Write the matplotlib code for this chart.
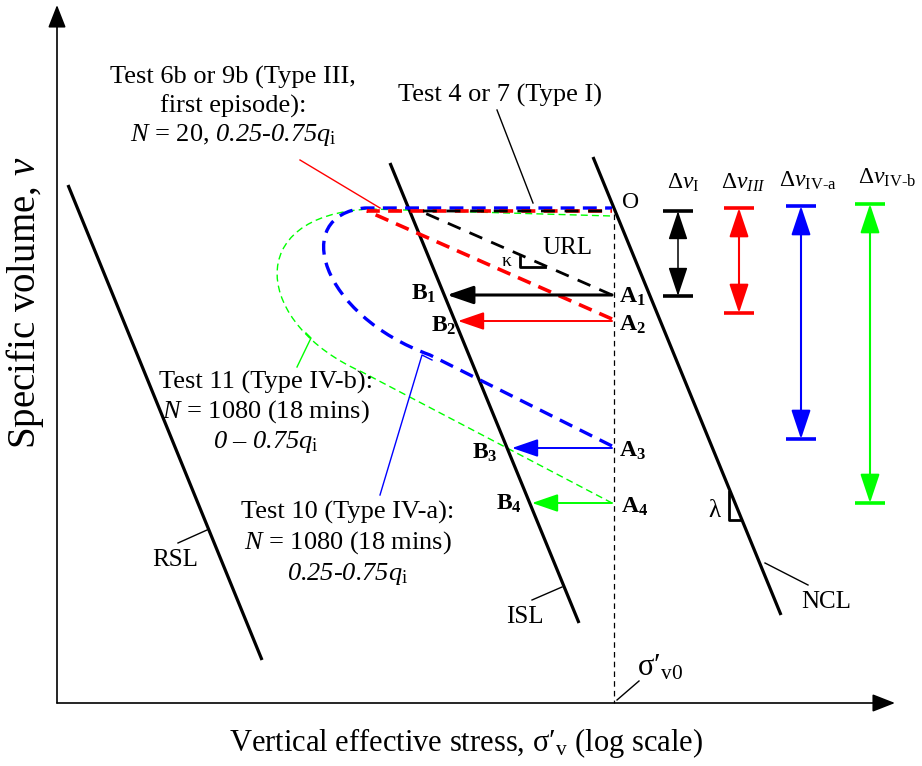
import matplotlib.pyplot as plt
from matplotlib.path import Path
from matplotlib.patches import PathPatch, FancyArrowPatch

plt.rcParams['font.family'] = ['Liberation Serif', 'DejaVu Serif']
plt.rcParams['mathtext.fontset'] = 'custom'
plt.rcParams['mathtext.rm'] = 'Liberation Serif'
plt.rcParams['mathtext.it'] = 'Liberation Serif:italic'
plt.rcParams['mathtext.bf'] = 'Liberation Serif:bold'
# italic digits: mathtext keeps digits upright in \mathit, so borrow the sf slot
plt.rcParams['mathtext.sf'] = 'Liberation Serif:italic'
plt.rcParams['lines.scale_dashes'] = False

# ── schematic geometry (pixel units, y downwards) ─────────────────────────────
# compression / state lines (top point, bottom point)
rsl_x, rsl_y = [68, 262], [185, 660]
isl_x, isl_y = [390, 579], [163, 623]
ncl_x, ncl_y = [593, 781], [157, 615]

# sigma'_v0 line
sig_x = 614
sig_y = [214, 703]

# undrained paths A_i -> B_i
a_y = [295, 321, 448, 503]
b_x = [447, 458, 512, 532]
path_cols = ['black', '#ff0000', '#0000ff', '#00ff00']
path_lw = [2.2, 1.4, 1.4, 1.4]

# delta-v bars
dv_x = [678, 739, 801, 870]
dv_top = [211, 208, 206, 204]
dv_bot = [296, 313, 439, 503]
dv_lw = [1.1, 1.5, 1.5, 1.5]
dv_labels = [r'$\Delta \nu_{\rm I}$', r'$\Delta \nu_{III}$',
             r'$\Delta \nu_{\rm IV\text{-}a}$', r'$\Delta \nu_{\rm IV\text{-}b}$']
dv_lab_xy = [(683, 183), (743, 183), (808, 181), (887, 178)]

# dashed cyclic-loading paths (vertices, bezier control points)
black_v = [(612, 295), (420, 211), (612, 211)]
red_v = [(612, 319), (367, 211), (612, 211)]
blue_v = [(612, 446), (430, 355), (320, 315), (290, 215), (365, 208), (612, 208)]
green_v = [(612, 503), (362, 372), (255, 325), (240, 215), (370, 209), (612, 216)]

# point labels
a_labels = [r'$\mathbf{A_1}$', r'$\mathbf{A_2}$', r'$\mathbf{A_3}$', r'$\mathbf{A_4}$']
a_lab_xy = [(632, 297), (632, 325), (632, 451), (635, 507)]
b_labels = [r'$\mathbf{B_1}$', r'$\mathbf{B_2}$', r'$\mathbf{B_3}$', r'$\mathbf{B_4}$']
b_lab_xy = [(424, 294), (444, 326), (485, 453), (509, 504)]

# test annotations
t1_lines = ['Test 4 or 7 (Type I)']
t3_lines = ['Test 6b or 9b (Type III,', 'first episode):',
            r'$N$ = 20, $\mathsf{0.25}$-$\mathsf{0.75}q_{\rm i}$']
t11_lines = ['Test 11 (Type IV-b):', r'$N$ = 1080 (18 mins)',
             r'$\mathsf{0}$ – $\mathsf{0.75}q_{\rm i}$']
t10_lines = ['Test 10 (Type IV-a):', r'$N$ = 1080 (18 mins)',
             r'$\mathsf{0.25}$-$\mathsf{0.75}q_{\rm i}$']

fig = plt.figure(figsize=(9.22, 7.66), dpi=100)
ax = fig.add_axes([0, 0, 1, 1])
ax.set_xlim(0, 922)
ax.set_ylim(766, 0)
ax.axis('off')


def arrow(p0, p1, color, lw, hl=15, hw=5, style='-|>'):
    a = FancyArrowPatch(p0, p1, arrowstyle=f'{style},head_length={hl},head_width={hw}',
                        mutation_scale=1, color=color, lw=lw, shrinkA=0, shrinkB=0,
                        zorder=5)
    ax.add_patch(a)


def dashed(verts, color, lw, dash, z):
    codes = [Path.MOVETO, Path.LINETO]
    if len(verts) == 6:
        codes += [Path.CURVE4] * 3 + [Path.LINETO]
    else:
        codes += [Path.LINETO]
    ax.add_patch(PathPatch(Path(verts, codes), fill=False, edgecolor=color, lw=lw,
                           linestyle=(0, dash), capstyle='butt', zorder=z))


# axes
arrow((57, 703), (57, 5), 'black', 1.2, hl=14, hw=5.5)
arrow((57, 703), (895, 703), 'black', 1.2, hl=14, hw=5.5)
ax.text(25, 303, r'Specific volume, $\nu$', rotation=90, ha='center', va='center',
        fontsize=28)
ax.text(466, 743, r'Vertical effective stress, σ′$_{\rm v}$ (log scale)',
        ha='center', va='center', fontsize=22)

# state lines
for xs, ys in [(rsl_x, rsl_y), (isl_x, isl_y), (ncl_x, ncl_y)]:
    ax.plot(xs, ys, color='black', lw=2.3, solid_capstyle='butt', zorder=3)

ax.plot([sig_x, sig_x], sig_y, color='black', lw=0.9, ls=(0, (4, 3)), zorder=2)

# dashed loading paths
dashed(green_v, '#00ff00', 1.0, (5, 3), 2)
dashed(blue_v, '#0000ff', 2.4, (10, 6), 3)
dashed(red_v, '#ff0000', 2.6, (10, 6), 4)
dashed(black_v, 'black', 2.0, (10, 7), 4)

# horizontal undrained arrows
for y, xb, c, lw in zip(a_y, b_x, path_cols, path_lw):
    arrow((612, y), (xb, y), c, lw, hl=16, hw=5.5)

for s, (x, y) in zip(a_labels, a_lab_xy):
    ax.text(x, y, s, ha='center', va='center', fontsize=17)
for s, (x, y) in zip(b_labels, b_lab_xy):
    ax.text(x, y, s, ha='center', va='center', fontsize=17)
ax.text(631, 202, 'O', ha='center', va='center', fontsize=17)

# delta-v bars
for x, y0, y1, c, lw in zip(dv_x, dv_top, dv_bot, path_cols, dv_lw):
    arrow((x, y0), (x, y1), c, lw, hl=18, hw=6, style='<|-|>')
    ax.plot([x - 15, x + 15], [y0, y0], color=c, lw=2.6, solid_capstyle='butt')
    ax.plot([x - 15, x + 15], [y1, y1], color=c, lw=2.6, solid_capstyle='butt')
for s, (x, y) in zip(dv_labels, dv_lab_xy):
    ax.text(x, y, s, ha='center', va='center', fontsize=17)

# slope markers
ax.plot([520, 520, 545], [257, 267, 267], color='black', lw=2, zorder=5)
ax.text(507, 262, 'κ', ha='center', va='center', fontsize=14)
ax.text(567, 248, 'URL', ha='center', va='center', fontsize=18)
ax.plot([729, 729, 741], [492, 520, 520], color='black', lw=2, zorder=5)
ax.text(714, 511, 'λ', ha='center', va='center', fontsize=18)

# line labels with leaders
ax.plot([178, 207], [543, 530], color='black', lw=1)
ax.text(175, 560, 'RSL', ha='center', va='center', fontsize=18)
ax.plot([532, 562], [600, 587], color='black', lw=1)
ax.text(525, 617, 'ISL', ha='center', va='center', fontsize=18)
ax.plot([765, 808], [563, 585], color='black', lw=1)
ax.text(826, 602, 'NCL', ha='center', va='center', fontsize=18)
ax.plot([617, 639], [700, 681], color='black', lw=1)
ax.text(660, 668, r'σ′$_{\rm v0}$', ha='center', va='center', fontsize=22)

# test annotations
ax.text(500, 95, t1_lines[0], ha='center', va='center', fontsize=19)
ax.plot([497, 533], [110, 203], color='black', lw=1)

for i, s in enumerate(t3_lines):
    ax.text(233, 77 + 29 * i, s, ha='center', va='center', fontsize=19)
ax.plot([300, 380], [160, 208], color='#ff0000', lw=1)

for i, s in enumerate(t11_lines):
    ax.text(266, 382 + 30 * i, s, ha='center', va='center', fontsize=19)
ax.plot([297, 311, 306], [367, 338, 333], color='#00ff00', lw=1)

for i, s in enumerate(t10_lines):
    ax.text(348, 512 + 31 * i, s, ha='center', va='center', fontsize=19)
ax.plot([380, 422, 432], [495, 355, 360], color='#0000ff', lw=1)

fig.savefig('out.png', dpi=100)
